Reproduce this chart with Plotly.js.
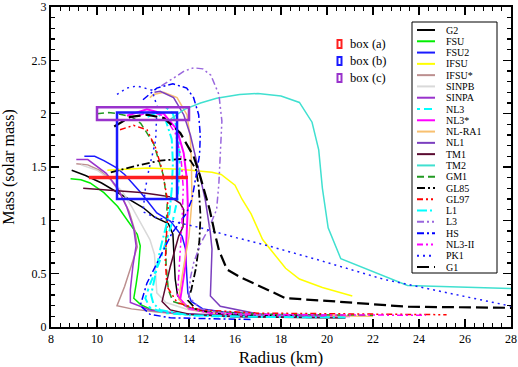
<!DOCTYPE html>
<html>
<head>
<meta charset="utf-8">
<script src="https://cdn.plot.ly/plotly-3.0.1.min.js"></script>
<style>html,body{margin:0;padding:0;background:#fff}</style>
</head>
<body>
<div id="chart" style="width:518px;height:367px"></div>
<script>
// mass-radius curves (R in km, M in solar masses)
const rG2 = [8.9, 9.5, 10.2, 10.9, 11.5, 12.0, 12.5, 13.1, 13.3, 13.35, 13.4, 13.5, 13.65, 14.0, 14.5, 15.5, 17, 19]
const mG2 = [1.47, 1.42, 1.35, 1.26, 1.18, 1.12, 1.03, 0.97, 0.87, 0.66, 0.45, 0.30, 0.24, 0.18, 0.15, 0.125, 0.11, 0.10]
const rFSU = [8.85, 9.3, 9.7, 10.3, 10.9, 11.4, 11.75, 11.88, 11.8, 11.7, 11.6, 11.9, 12.4, 13.2, 14.5, 16.5, 19]
const mFSU = [1.39, 1.38, 1.35, 1.26, 1.13, 0.98, 0.87, 0.76, 0.55, 0.40, 0.27, 0.21, 0.16, 0.13, 0.115, 0.105, 0.1]
const rFSU2 = [9.45, 9.9, 10.3, 10.8, 11.2, 11.9, 12.6, 13.2, 13.7, 13.85, 13.9, 13.95, 14.1, 14.6, 15.5, 17, 20]
const mFSU2 = [1.60, 1.60, 1.56, 1.50, 1.43, 1.26, 1.07, 0.99, 0.85, 0.73, 0.5, 0.32, 0.24, 0.17, 0.14, 0.12, 0.11]
const rIFSU = [10.45, 11.5, 12.2, 13.6, 14.5, 15.0, 15.4, 16.0, 16.3, 16.7, 17.2, 18.2, 18.8, 19.8, 21.1]
const mIFSU = [1.47, 1.48, 1.49, 1.48, 1.46, 1.45, 1.43, 1.33, 1.2, 1.06, 0.82, 0.55, 0.45, 0.37, 0.29]
const rIFSUs = [9.1, 9.6, 10.1, 10.6, 11.0, 11.4, 11.65, 11.75, 11.5, 11.2, 10.87, 11.5, 12.6, 14, 16, 19]
const mIFSUs = [1.53, 1.52, 1.47, 1.38, 1.26, 1.08, 0.90, 0.75, 0.58, 0.38, 0.20, 0.17, 0.14, 0.115, 0.1, 0.095]
const rSINPB = [9.3, 10.0, 10.6, 11.1, 11.5, 11.9, 12.3, 12.5, 12.55, 12.6, 13.0, 14, 16, 19]
const mSINPB = [1.52, 1.47, 1.38, 1.27, 1.13, 0.98, 0.82, 0.68, 0.5, 0.32, 0.23, 0.16, 0.12, 0.1]
const rSINPA = [9.1, 9.6, 10.4, 10.9, 11.3, 11.6, 11.7, 11.56, 11.45, 11.45, 12.3, 13.5, 15, 17, 20]
const mSINPA = [1.57, 1.57, 1.44, 1.30, 1.12, 0.92, 0.76, 0.57, 0.35, 0.23, 0.16, 0.13, 0.115, 0.105, 0.1]
const rNL3 = [13.0, 13.3, 13.55, 13.6, 13.5, 13.3, 13.0, 12.7, 12.3, 12.1, 12.3, 13, 15, 20]
const mNL3 = [2.06, 2.0, 1.8, 1.5, 1.2, 1.0, 0.8, 0.6, 0.4, 0.27, 0.18, 0.13, 0.1, 0.09]
const rNL3s = [11.3, 11.6, 12.17, 12.9, 13.48, 13.77, 13.91, 13.95, 13.91, 13.84, 13.62, 14.0, 15, 17, 21]
const mNL3s = [1.98, 2.0, 2.04, 2.0, 1.85, 1.63, 1.38, 1.13, 0.88, 0.57, 0.26, 0.17, 0.13, 0.11, 0.1]
const rNLRA1 = [12.3, 12.46, 12.9, 13.48, 13.91, 14.06, 14.1, 14.13, 14.0, 13.77, 13.55, 14.0, 15, 18, 22]
const mNLRA1 = [2.15, 2.18, 2.2, 2.15, 1.99, 1.77, 1.57, 1.19, 0.85, 0.57, 0.26, 0.17, 0.13, 0.11, 0.1]
const rNL1 = [12.5, 12.75, 13.33, 13.77, 14.06, 14.27, 14.42, 14.71, 14.93, 15.0, 14.95, 14.93, 15.36, 17.1, 20]
const mNL1 = [2.2, 2.21, 2.15, 1.99, 1.8, 1.615, 1.47, 1.19, 0.88, 0.73, 0.5, 0.29, 0.195, 0.117, 0.1]
const rTM1 = [9.4, 10.5, 11.9, 12.6, 13.19, 13.62, 13.77, 13.74, 13.55, 13.19, 12.97, 12.83, 13.19, 14, 16, 18, 20.8]
const mTM1 = [1.30, 1.28, 1.26, 1.24, 1.22, 1.16, 1.10, 0.94, 0.85, 0.57, 0.38, 0.24, 0.16, 0.12, 0.095, 0.088, 0.085]
const rTM2 = [13.2, 13.8, 14.5, 15.2, 16.2, 17.0, 18.0, 18.8, 19.35, 19.64, 19.8, 20.05, 20.6, 23.5, 28]
const mTM2 = [1.95, 2.04, 2.1, 2.145, 2.18, 2.19, 2.165, 2.105, 1.92, 1.66, 1.3, 0.93, 0.64, 0.39, 0.36]
const rGM1 = [10.0, 10.5, 10.9, 11.5, 11.9, 12.46, 12.9, 13.05, 13.0, 13.0, 13.1, 13.3, 14.5, 17, 22]
const mGM1 = [2.0, 2.01, 2.0, 1.97, 1.91, 1.72, 1.41, 1.15, 0.9, 0.6, 0.35, 0.24, 0.15, 0.12, 0.11]
const rGL85 = [10.6, 11.3, 11.88, 12.75, 13.62, 14.06, 14.3, 14.42, 14.5, 14.45, 14.3, 14.1, 13.95, 14.3, 15, 16.5, 19]
const mGL85 = [1.45, 1.49, 1.52, 1.56, 1.575, 1.56, 1.48, 1.32, 1.04, 0.8, 0.55, 0.35, 0.25, 0.17, 0.13, 0.11, 0.1]
const rGL97 = [11.0, 11.59, 12.17, 12.53, 12.83, 13.04, 13.1, 13.04, 12.97, 13.04, 13.48, 14.5, 17, 21, 25.2]
const mGL97 = [1.85, 1.89, 1.85, 1.69, 1.475, 1.22, 1.1, 0.94, 0.63, 0.38, 0.23, 0.16, 0.13, 0.12, 0.115]
const rL1 = [12.2, 12.6, 13.0, 13.25, 13.3, 13.25, 13.15, 12.95, 12.75, 12.55, 12.35, 12.45, 12.75, 14, 17, 20.8]
const mL1 = [1.97, 2.01, 1.93, 1.76, 1.54, 1.29, 1.07, 0.9, 0.73, 0.5, 0.3, 0.22, 0.16, 0.11, 0.095, 0.09]
const rL3 = [12.8, 13.3, 13.8, 14.2, 14.6, 14.95, 15.3, 15.43, 15.36, 15.3, 15.2, 14.85, 14.5, 14.2, 14.05, 14.0, 14.5, 15.5, 17, 20]
const mL3 = [2.26, 2.33, 2.40, 2.43, 2.42, 2.36, 2.18, 1.93, 1.62, 1.35, 1.1, 0.92, 0.78, 0.6, 0.45, 0.28, 0.17, 0.13, 0.11, 0.1]
const rHS = [12.0, 12.6, 13.3, 13.9, 14.2, 14.42, 14.49, 14.46, 14.35, 14.13, 13.9, 13.26, 12.68, 12.17, 11.88, 12.3, 13.19, 15, 16.7]
const mHS = [2.13, 2.24, 2.28, 2.24, 2.15, 1.99, 1.80, 1.615, 1.47, 1.2, 1.07, 0.88, 0.63, 0.41, 0.2, 0.12, 0.086, 0.075, 0.07]
const rNL3II = [11.8, 12.3, 12.9, 13.4, 13.65, 13.75, 13.7, 13.6, 13.5, 13.9, 15, 18, 24.3]
const mNL3II = [1.98, 2.02, 1.98, 1.82, 1.6, 1.3, 1.0, 0.6, 0.3, 0.18, 0.13, 0.115, 0.11]
const rPK1 = [10.87, 11.3, 11.74, 12.39, 12.61, 12.55, 12.25, 12.1, 12.0, 12.5, 13.5, 14.5, 16, 17.3, 19.6, 22.5, 28]
const mPK1 = [2.18, 2.24, 2.26, 2.22, 2.07, 1.75, 1.47, 1.29, 1.08, 1.03, 0.98, 0.93, 0.84, 0.77, 0.63, 0.445, 0.195]
const rG1 = [10.75, 11.45, 12.17, 12.9, 13.62, 14.2, 14.49, 14.9, 15.1, 15.3, 15.65, 16.2, 17.1, 18.2, 20, 23.5, 28]
const mG1 = [1.88, 1.97, 1.99, 1.96, 1.82, 1.60, 1.41, 1.1, 0.9, 0.72, 0.54, 0.47, 0.38, 0.27, 0.245, 0.19, 0.18]

// constraint boxes: [Rmin, Rmax, Mmin, Mmax]
const boxNames = ['box (a)', 'box (b)', 'box (c)']
const boxColors = ['#ff2020', '#1a1aff', '#9933cc']
const boxA = [9.7, 13.9, 1.397, 1.407]
const boxB = [10.87, 13.48, 1.2, 2.01]
const boxC = [10.0, 14.0, 1.94, 2.06]

// name, radius, mass, colour, dash, width
const series = [
  ['G2', rG2, mG2, '#000000', 'solid', 1.5],
  ['FSU', rFSU, mFSU, '#00ee00', 'solid', 1.5],
  ['FSU2', rFSU2, mFSU2, '#1a1aff', 'solid', 1.5],
  ['IFSU', rIFSU, mIFSU, '#ffff00', 'solid', 1.5],
  ['IFSU*', rIFSUs, mIFSUs, '#bc8f8f', 'solid', 1.5],
  ['SINPB', rSINPB, mSINPB, '#d9d9d9', 'solid', 1.5],
  ['SINPA', rSINPA, mSINPA, '#9933cc', 'solid', 1.5],
  ['NL3', rNL3, mNL3, '#00ffff', '3px,4px,8px,4px', 2],
  ['NL3*', rNL3s, mNL3s, '#ff00ff', 'solid', 2],
  ['NL-RA1', rNLRA1, mNLRA1, '#f8c070', 'solid', 1.5],
  ['NL1', rNL1, mNL1, '#7b3fbf', 'solid', 1.5],
  ['TM1', rTM1, mTM1, '#5a0a30', 'solid', 1.5],
  ['TM2', rTM2, mTM2, '#40e0d0', 'solid', 1.5],
  ['GM1', rGM1, mGM1, '#229922', '7px,4px', 1.5],
  ['GL85', rGL85, mGL85, '#000000', '8px,3px,2px,3px', 1.8],
  ['GL97', rGL97, mGL97, '#ff0000', '6px,3px,2px,3px,2px,3px', 1.5],
  ['L1', rL1, mL1, '#00ffff', '10px,3px,2px,3px', 2],
  ['L3', rL3, mL3, '#9966dd', '7px,3px,2px,3px,2px,3px', 1.5],
  ['HS', rHS, mHS, '#0000ff', '7px,3px,2px,3px', 1.5],
  ['NL3-II', rNL3II, mNL3II, '#ff00ff', '6px,3px,2px,3px,2px,3px', 1.5],
  ['PK1', rPK1, mPK1, '#1a1aff', '2px,4px', 1.5],
  ['G1', rG1, mG1, '#000000', '12px,5px', 2.2]
]

const traces = series.map(s => ({
  x: s[1], y: s[2], name: s[0], type: 'scatter', mode: 'lines',
  line: {color: s[3], dash: s[4], width: s[5]},
  showlegend: false, hoverinfo: 'skip'
}))

const serif = 'Liberation Serif, Times New Roman, serif'
// plot area in pixels
const L = 51, T = 7, W = 460, H = 320
const px = v => (v - L) / W
const py = v => (T + H - v) / H

const shapes = []
const annotations = []

// constraint boxes on the data axes
;[boxA, boxB, boxC].forEach((b, i) => {
  shapes.push({type: 'rect', xref: 'x', yref: 'y', x0: b[0], x1: b[1], y0: b[2], y1: b[3],
    line: {color: boxColors[i], width: 2.5}, layer: 'above'})
})

// key for the boxes
const boxKeyY = [44, 61, 78]
boxNames.forEach((n, i) => {
  shapes.push({type: 'rect', xref: 'paper', yref: 'paper',
    x0: px(337.5), x1: px(341.5), y0: py(boxKeyY[i] + 4), y1: py(boxKeyY[i] - 4),
    line: {color: boxColors[i], width: 2}})
  annotations.push({xref: 'paper', yref: 'paper', x: px(348), y: py(boxKeyY[i]),
    xanchor: 'left', yanchor: 'middle', showarrow: false, text: n,
    font: {family: serif, size: 12.5, color: '#000'}})
})

// hand-made legend (22 entries do not fit in plotly's own legend)
const legTop = 22, legBot = 273, legL = 412, legR = 497
shapes.push({type: 'rect', xref: 'paper', yref: 'paper', x0: px(legL), x1: px(legR),
  y0: py(legBot), y1: py(legTop), line: {color: '#000', width: 1}, fillcolor: '#fff', layer: 'above'})
const step = (267 - 30) / (series.length - 1)
series.forEach((s, i) => {
  const yy = 30 + i * step
  shapes.push({type: 'line', xref: 'paper', yref: 'paper', x0: px(417), x1: px(435),
    y0: py(yy), y1: py(yy), line: {color: s[3], dash: s[4], width: 2}, layer: 'above'})
  annotations.push({xref: 'paper', yref: 'paper', x: px(444), y: py(yy),
    xanchor: 'left', yanchor: 'middle', showarrow: false, text: s[0],
    font: {family: serif, size: 10, color: '#000'}})
})

const axisCommon = {
  showline: true, linewidth: 2, linecolor: '#000', mirror: 'ticks',
  ticks: 'inside', ticklen: 8, tickwidth: 1.5, tickcolor: '#000',
  showgrid: false, zeroline: false,
  tickfont: {family: serif, size: 12, color: '#000'}
}

const layout = {
  width: 518, height: 367,
  margin: {l: L, r: 518 - L - W, t: T, b: 367 - T - H},
  paper_bgcolor: '#fff', plot_bgcolor: '#fff',
  showlegend: false,
  font: {family: serif},
  xaxis: Object.assign({}, axisCommon, {
    range: [8, 28], tick0: 8, dtick: 2,
    minor: {dtick: 0.4, ticks: 'inside', ticklen: 4, tickwidth: 1.2, tickcolor: '#000'},
    title: {text: 'Radius (km)', font: {family: serif, size: 17, color: '#000'}, standoff: 7}
  }),
  yaxis: Object.assign({}, axisCommon, {
    range: [0, 3], tick0: 0, dtick: 0.5,
    minor: {dtick: 0.1, ticks: 'inside', ticklen: 4, tickwidth: 1.2, tickcolor: '#000'},
    title: {text: 'Mass (solar mass)', font: {family: serif, size: 16, color: '#000'}, standoff: 13}
  }),
  shapes: shapes,
  annotations: annotations
}

Plotly.newPlot('chart', traces, layout, {staticPlot: true})
</script>
</body>
</html>
